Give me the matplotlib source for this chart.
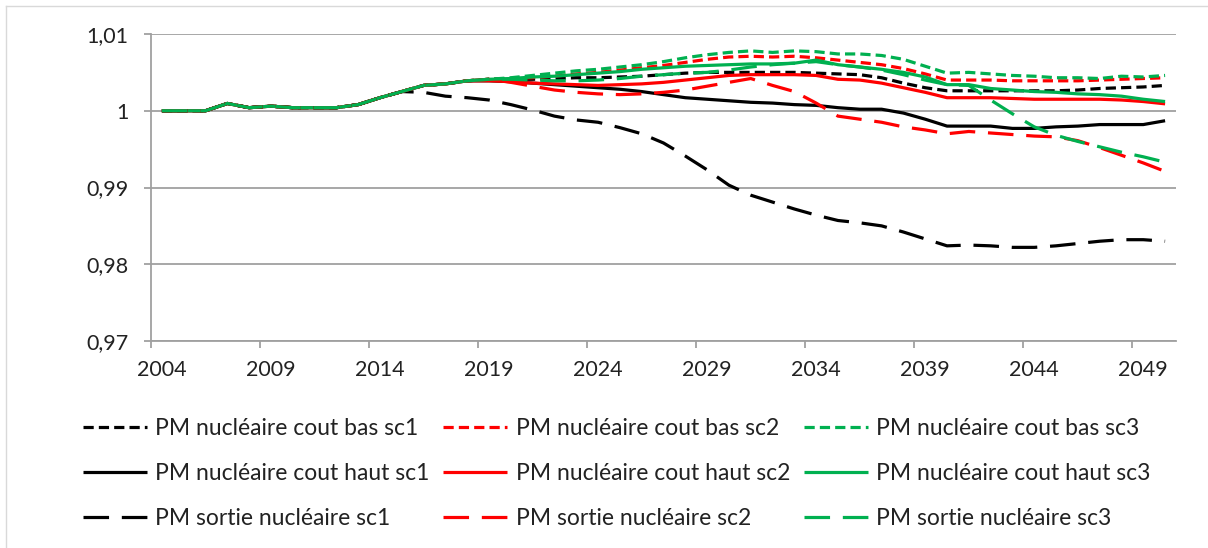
import matplotlib
matplotlib.use("Agg")
import matplotlib.pyplot as plt
from matplotlib.ticker import FixedLocator, FuncFormatter
from matplotlib.lines import Line2D

plt.rcParams['font.family'] = ['Lato', 'DejaVu Sans']

# annees 2004 - 2050
years = list(range(2004, 2051))

# partie commune 2004 - 2015
history = [1.0, 1.0, 1.0, 1.00095, 1.0004, 1.0006, 1.0004, 1.0004, 1.0004, 1.0008, 1.0017, 1.0025]

# valeurs 2016 - 2050
bas_sc1 = [1.0033, 1.0035, 1.0039,
           1.0041, 1.0041, 1.0041, 1.0042, 1.0043, 1.0043, 1.0044, 1.0045, 1.0047, 1.0049,
           1.005, 1.005, 1.005, 1.005, 1.005, 1.0049, 1.0048, 1.0047, 1.0043, 1.0036,
           1.003, 1.0026, 1.0026, 1.0026, 1.0026, 1.0026, 1.0026, 1.0027, 1.0029, 1.003,
           1.0031, 1.0033]
bas_sc2 = [1.0033, 1.0035, 1.0039,
           1.0041, 1.0042, 1.0043, 1.0045, 1.0048, 1.005, 1.0053, 1.0056, 1.0059, 1.0063,
           1.0067, 1.007, 1.0071, 1.007, 1.0071, 1.0069, 1.0066, 1.0063, 1.006, 1.0055,
           1.0048, 1.004, 1.004, 1.004, 1.0039, 1.0039, 1.0039, 1.0039, 1.004, 1.0041,
           1.0042, 1.0043]
bas_sc3 = [1.0033, 1.0035, 1.0039,
           1.0041, 1.0043, 1.0046, 1.0049, 1.0052, 1.0054, 1.0057, 1.006, 1.0064, 1.0069,
           1.0073, 1.0076, 1.0078, 1.0076, 1.0078, 1.0077, 1.0074, 1.0074, 1.0072, 1.0067,
           1.0058, 1.0049, 1.005, 1.0048, 1.0046, 1.0045, 1.0043, 1.0043, 1.0042, 1.0045,
           1.0044, 1.0046]
haut_sc1 = [1.0033, 1.0035, 1.0039,
            1.0039, 1.0038, 1.0036, 1.0034, 1.0032, 1.003, 1.0028, 1.0025, 1.0021, 1.0017,
            1.0015, 1.0013, 1.0011, 1.001, 1.0008, 1.0007, 1.0004, 1.0002, 1.0002, 0.9997,
            0.9989, 0.998, 0.998, 0.998, 0.9977, 0.9977, 0.9979, 0.998, 0.9982, 0.9982,
            0.9982, 0.9987]
haut_sc2 = [1.0033, 1.0035, 1.0039,
            1.0039, 1.0038, 1.0036, 1.0035, 1.0034, 1.0033, 1.0034, 1.0035, 1.0037, 1.004,
            1.0043, 1.0046, 1.0047, 1.0047, 1.0047, 1.0046, 1.0041, 1.004, 1.0036, 1.003,
            1.0024, 1.0017, 1.0017, 1.0017, 1.0016, 1.0015, 1.0015, 1.0015, 1.0015, 1.0014,
            1.0012, 1.0009]
haut_sc3 = [1.0033, 1.0035, 1.0039,
            1.0041, 1.0042, 1.0044, 1.0045, 1.0047, 1.0049, 1.0051, 1.0054, 1.0056, 1.0058,
            1.0059, 1.006, 1.0061, 1.0061, 1.0062, 1.0066, 1.006, 1.0057, 1.0054, 1.005,
            1.0044, 1.0034, 1.0034, 1.0029, 1.0027, 1.0025, 1.0024, 1.0022, 1.0021, 1.0019,
            1.0015, 1.0012]
sortie_sc1 = [1.0024, 1.0019, 1.0017,
              1.0014, 1.0008, 1.0001, 0.9993, 0.9988, 0.9985, 0.9978, 0.997, 0.9958, 0.9941,
              0.9923, 0.9903, 0.989, 0.9881, 0.9872, 0.9864, 0.9857, 0.9854, 0.985, 0.9842,
              0.9833, 0.9824, 0.9825, 0.9824, 0.9822, 0.9822, 0.9824, 0.9827, 0.983, 0.9832,
              0.9832, 0.983]
sortie_sc2 = [1.0033, 1.0035, 1.0039,
              1.0041, 1.0037, 1.0032, 1.0027, 1.0024, 1.0022, 1.0021, 1.0022, 1.0024, 1.0027,
              1.0032, 1.0037, 1.0042, 1.0033, 1.0025, 1.001, 0.9993, 0.9989, 0.9985, 0.9979,
              0.9975, 0.997, 0.9973, 0.9971, 0.9969, 0.9967, 0.9966, 0.9961, 0.9952, 0.9942,
              0.9932, 0.9921]
sortie_sc3 = [1.0033, 1.0035, 1.0039,
              1.0041, 1.0041, 1.004, 1.0039, 1.0039, 1.004, 1.0042, 1.0045, 1.0047, 1.0049,
              1.005, 1.0053, 1.0057, 1.006, 1.0062, 1.0064, 1.006, 1.0057, 1.0053, 1.0047,
              1.004, 1.0034, 1.0033, 1.0014, 0.9996, 0.9979, 0.9968, 0.996, 0.9953, 0.9946,
              0.994, 0.9933]

y_ticks = [0.97, 0.98, 0.99, 1.0, 1.01]
x_labels = [2004, 2009, 2014, 2019, 2024, 2029, 2034, 2039, 2044, 2049]

# ordre des series comme dans Excel (la derniere dessinee au dessus)
series = [
    ("PM nucléaire cout bas sc1", bas_sc1, "black", "bas"),
    ("PM nucléaire cout bas sc2", bas_sc2, "red", "bas"),
    ("PM nucléaire cout bas sc3", bas_sc3, "#00B050", "bas"),
    ("PM nucléaire cout haut sc1", haut_sc1, "black", "haut"),
    ("PM nucléaire cout haut sc2", haut_sc2, "red", "haut"),
    ("PM nucléaire cout haut sc3", haut_sc3, "#00B050", "haut"),
    ("PM sortie nucléaire sc1", sortie_sc1, "black", "sortie"),
    ("PM sortie nucléaire sc2", sortie_sc2, "red", "sortie"),
    ("PM sortie nucléaire sc3", sortie_sc3, "#00B050", "sortie"),
]
dash_styles = {"bas": (0, (3.2, 1.6)), "haut": "-", "sortie": (0, (8, 4))}

fig = plt.figure(figsize=(12.08, 5.48), dpi=100)
ax = fig.add_axes([151 / 1208, 1 - 341 / 548, (1176 - 151) / 1208, (341 - 34) / 548])

handles = {}
for label, tail, color, kind in series:
    values = history + tail
    line, = ax.plot(years, values, color=color, lw=2.3, linestyle=dash_styles[kind],
                    label=label, solid_capstyle="butt", dash_capstyle="butt")
    handles[label] = line

ax.set_xlim(2003.5, 2050.5)
ax.set_ylim(0.97, 1.01)

grid_color = "#A0A0A0"
ax.set_yticks(y_ticks)
ax.yaxis.set_major_formatter(FuncFormatter(lambda v, p: f"{round(v, 2):g}".replace(".", ",")))
ax.grid(axis="y", color=grid_color, lw=1.3)
ax.set_axisbelow(True)

# graduations entre les categories, etiquettes au centre
ax.xaxis.set_major_locator(FixedLocator([x - 0.5 for x in x_labels]))
ax.xaxis.set_major_formatter(FuncFormatter(lambda v, p: ""))
ax.xaxis.set_minor_locator(FixedLocator(x_labels))
ax.xaxis.set_minor_formatter(FuncFormatter(lambda v, p: str(int(round(v)))))
ax.tick_params(axis="x", which="major", length=5, width=1.3, color=grid_color)
ax.tick_params(axis="x", which="minor", length=0, pad=14, labelsize=15.5, labelcolor="#222222")
ax.tick_params(axis="y", length=5, width=1.3, color=grid_color, pad=11, labelsize=15.5,
               labelcolor="#222222")

for side in ["top", "right"]:
    ax.spines[side].set_visible(False)
for side in ["left", "bottom"]:
    ax.spines[side].set_color(grid_color)
    ax.spines[side].set_linewidth(1.3)

# legende : 3 colonnes, une par scenario
order = [series[i][0] for i in [0, 3, 6, 1, 4, 7, 2, 5, 8]]
fig.legend([handles[k] for k in order], order, ncol=3, frameon=False,
           loc="upper left", bbox_to_anchor=(83 / 1208, 1 - 418 / 548),
           fontsize=16.5, handlelength=2.8, handletextpad=0.35, columnspacing=0.6,
           labelspacing=1.05, borderpad=0, borderaxespad=0, labelcolor="#222222")

# bordure de la zone de graphique
fig.add_artist(Line2D([6 / 1208, 1], [1 - 6 / 548, 1 - 6 / 548], color="#D9D9D9", lw=1))
fig.add_artist(Line2D([6 / 1208, 6 / 1208], [0, 1 - 6 / 548], color="#D9D9D9", lw=1))

plt.savefig("out.png", dpi=100)
